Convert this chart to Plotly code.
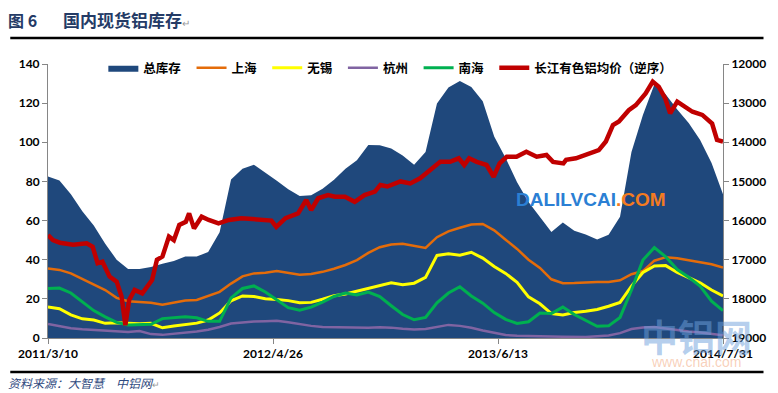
import plotly.graph_objects as go
import pandas as pd

# ---------------- data ----------------
dates = pd.date_range("2011-03-10", "2014-07-31", freq="21D")

total = [82.5, 80.5, 73.5, 64.8, 57.5, 48.2, 40, 35.2, 35.3, 36.3,
         38, 39.3, 41.7, 41.6, 44, 54, 81, 86.5, 88.5, 84.5,
         80.3, 76, 72.5, 73, 76.3, 80.8, 86.5, 90.8, 98.6, 98.5,
         96.8, 93.3, 88.5, 95, 119.8, 128, 131.3, 128.3, 121, 103,
         92, 79.6, 69.5, 61.8, 54.2, 59, 54.8, 52.9, 50.3, 52.8,
         62, 95, 114, 129.5, 124.4, 116.8, 109.8, 101.2, 89.4, 73.5]

shanghai = [35.5, 34.8, 33, 30.3, 27.6, 24.5, 20.5, 18.8, 18.4, 18,
            17, 18, 19.2, 19.4, 21.6, 23.6, 27.8, 31.5, 33, 33.3,
            34.2, 33.3, 32.3, 32.7, 33.8, 35.4, 37.3, 39.8, 43.5, 46.4,
            47.8, 48.2, 47, 46, 51.5, 54.5, 56.3, 58, 58.3, 55,
            50.2, 45.5, 40, 35.8, 30, 28, 28.1, 28.4, 28.6, 28.6,
            29.5, 32.6, 34.2, 39.5, 41.3, 40.8, 39.7, 38.8, 37.7, 36]

wuxi = [15.8, 15, 11.8, 9.8, 9.2, 7.5, 7.8, 7.4, 7.3, 7.5,
        5.2, 6.1, 6.9, 7.6, 9.2, 12.8, 19, 21.5, 21.2, 20.1,
        19.7, 19.1, 18, 18.2, 19.8, 21.6, 22.5, 24, 25.3, 26.8,
        28.2, 27.2, 28, 31, 42.2, 43, 42.3, 43.8, 40.8, 36.5,
        33, 28.5, 21, 17.5, 12.5, 11.8, 13, 13.7, 14.6, 16.2,
        18.2, 26.5, 33.5, 36.8, 37, 33.5, 30.8, 28.2, 24.5, 21.5]

hangzhou = [7.2, 6.2, 5, 4.5, 4.1, 3.7, 3.4, 3.1, 3.6, 2,
            1.6, 2.1, 2.8, 3.3, 4.2, 5.6, 7.4, 8, 8.4, 8.6,
            8.8, 8, 7, 6.2, 5.6, 5.5, 5.6, 5.4, 5.3, 5.5,
            5.3, 4.7, 4.3, 4.6, 5.6, 6.7, 6.2, 5.2, 3.8, 2.6,
            1.5, 1.1, 0.9, 0.9, 0.8, 0.7, 0.6, 0.5, 0.9, 1.3,
            2.5, 4.6, 5.4, 5.6, 4.8, 4, 3.3, 2.8, 2.2, 1.4]

nanhai = [25.3, 25.5, 23, 18.3, 14, 10.8, 8, 6.6, 6.9, 7,
          9.9, 10.4, 10.9, 10.3, 8.5, 8.5, 20.5, 25.3, 26.6, 23.5,
          19.5, 15.5, 14.2, 15.8, 18.3, 21.2, 23, 22, 23.5, 21.2,
          16.5, 12, 9.3, 10.5, 18, 23, 26.2, 21.5, 17.8, 13,
          9.5, 7.4, 8.3, 12.8, 12.5, 15.8, 12, 9, 6, 6.2,
          10.5, 24.5, 39.8, 46.2, 41.5, 35, 31, 26.5, 18.8, 14]

price_dates = ["2011-03-10", "2011-03-19", "2011-04-01", "2011-04-25", "2011-05-20",
               "2011-05-31", "2011-06-09", "2011-06-18", "2011-07-01", "2011-07-14",
               "2011-07-23", "2011-07-30", "2011-08-06", "2011-08-16", "2011-08-30",
               "2011-09-17", "2011-09-26", "2011-10-06", "2011-10-18", "2011-10-27",
               "2011-11-06", "2011-11-18", "2011-11-24", "2011-12-03", "2011-12-17",
               "2011-12-30", "2012-01-17", "2012-02-05", "2012-02-28", "2012-03-30",
               "2012-04-23", "2012-05-02", "2012-05-19", "2012-06-11", "2012-06-26",
               "2012-07-05", "2012-07-18", "2012-08-05", "2012-08-18", "2012-09-05",
               "2012-09-23", "2012-10-11", "2012-10-30", "2012-11-09", "2012-11-22",
               "2012-12-16", "2013-01-03", "2013-01-21", "2013-02-09", "2013-02-27",
               "2013-03-17", "2013-04-02", "2013-04-12", "2013-04-21", "2013-05-05",
               "2013-05-23", "2013-06-05", "2013-06-16", "2013-06-29", "2013-07-17",
               "2013-08-04", "2013-08-23", "2013-09-10", "2013-09-22", "2013-10-11",
               "2013-10-16", "2013-11-03", "2013-11-27", "2013-12-15", "2013-12-28",
               "2014-01-10", "2014-01-21", "2014-02-08", "2014-02-21", "2014-03-11",
               "2014-03-24", "2014-04-04", "2014-04-16", "2014-04-25", "2014-05-08",
               "2014-05-23", "2014-06-05", "2014-06-23", "2014-07-11", "2014-07-20",
               "2014-07-31"]
price = [16370, 16500, 16565, 16620, 16580,
         16670, 17090, 17050, 17430, 17560,
         17940, 18670, 18030, 17770, 17860,
         17520, 17000, 16920, 16410, 16500,
         16110, 16030, 15815, 16200, 15900,
         15985, 16070, 15985, 15940, 15985,
         16000, 16160, 15940, 15815, 15475,
         15730, 15430, 15350, 15390, 15390,
         15520, 15350, 15260, 15090, 15130,
         15000, 15050, 14920, 14710, 14500,
         14500, 14410, 14580, 14410, 14500,
         14580, 14880, 14540, 14370, 14370,
         14240, 14370, 14325, 14500, 14540,
         14450, 14410, 14280, 14200, 13980,
         13560, 13470, 13180, 13050, 12750,
         12450, 12580, 12880, 13260, 12960,
         13090, 13220, 13300, 13520, 13940,
         13980]

tick_dates = ["2011-03-10", "2012-04-26", "2013-06-13", "2014-07-31"]
tick_text = ["2011/3/10", "2012/4/26", "2013/6/13", "2014/7/31"]
left_ticks = [0, 20, 40, 60, 80, 100, 120, 140]
right_ticks = [12000, 13000, 14000, 15000, 16000, 17000, 18000, 19000]

# ---------------- figure ----------------
FONT = "Lato, 'Noto Sans CJK SC', sans-serif"
CJK = "'Noto Sans CJK SC', sans-serif"
AX = "#868686"
PAD = "\u00a0\u00a0"

fig = go.Figure()
fig.add_trace(go.Scatter(x=dates, y=total, name="总库存" + PAD, mode="lines",
                         fill="tozeroy", fillcolor="#1F487C",
                         line=dict(color="#1F487C", width=0)))
fig.add_trace(go.Scatter(x=dates, y=shanghai, name="上海" + PAD, mode="lines",
                         line=dict(color="#E46C0A", width=2.5)))
fig.add_trace(go.Scatter(x=dates, y=wuxi, name="无锡" + PAD, mode="lines",
                         line=dict(color="#FFFF00", width=3)))
fig.add_trace(go.Scatter(x=dates, y=hangzhou, name="杭州" + PAD, mode="lines",
                         line=dict(color="#8064A2", width=2.5)))
fig.add_trace(go.Scatter(x=dates, y=nanhai, name="南海" + PAD, mode="lines",
                         line=dict(color="#00B050", width=3)))
fig.add_trace(go.Scatter(x=price_dates, y=price, name="长江有色铝均价（逆序）",
                         mode="lines", yaxis="y2",
                         line=dict(color="#C00000", width=4.5)))

axis_common = dict(showgrid=False, zeroline=False, showline=True, linecolor=AX,
                   linewidth=1, ticks="outside", ticklen=5, tickcolor=AX,
                   tickfont=dict(family=FONT, size=12, color="#000", weight="bold"))

fig.update_layout(
    width=778, height=393,
    margin=dict(l=48, r=50, t=64, b=55),
    paper_bgcolor="white", plot_bgcolor="white",
    font=dict(family=FONT, size=12, color="#000"),
    showlegend=True,
    legend=dict(orientation="h", x=0.082, xanchor="left", y=0.985, yanchor="middle",
                bgcolor="rgba(0,0,0,0)", font=dict(family=CJK, size=12.5, weight="bold"),
                itemwidth=30, traceorder="normal"),
    xaxis=dict(type="date", range=["2011-03-10", "2014-07-31"],
               tickvals=tick_dates, ticktext=tick_text, **axis_common),
    yaxis=dict(range=[0, 140], tickvals=left_ticks, **axis_common),
    yaxis2=dict(overlaying="y", side="right", range=[19000, 12000],
                tickvals=right_ticks, tickformat="d", **axis_common),
)

# header / footer rules
fig.add_shape(type="line", xref="paper", yref="paper", x0=-0.0559, x1=1.06,
              y0=1.0949, y1=1.0949, line=dict(color="#000", width=2.5))
fig.add_shape(type="line", xref="paper", yref="paper", x0=-0.0559, x1=1.06,
              y0=-0.1241, y1=-0.1241, line=dict(color="#000", width=2.5))

# title
fig.add_annotation(xref="paper", yref="paper", x=-0.0615, y=1.1606, xanchor="left",
                   yanchor="middle", showarrow=False, text="图 6",
                   font=dict(family=CJK, size=16, color="#243B66", weight="bold"))
fig.add_annotation(xref="paper", yref="paper", x=0.0195, y=1.1606, xanchor="left",
                   yanchor="middle", showarrow=False,
                   text="国内现货铝库存<span style='font-size:10px;color:#999;font-weight:normal'>↵</span>",
                   font=dict(family=CJK, size=17, color="#243B66", weight="bold"))

# source
fig.add_annotation(xref="paper", yref="paper", x=-0.0615, y=-0.164, xanchor="left",
                   yanchor="middle", showarrow=False,
                   text="<i>资料来源：大智慧　中铝网</i><span style='font-size:9px;color:#999'>↵</span>",
                   font=dict(family=CJK, size=12, color="#2F4A80"))

# watermarks
fig.add_annotation(xref="paper", yref="paper", x=0.804, y=0.504, xanchor="center",
                   yanchor="middle", showarrow=False,
                   text="<span style='color:#2B7FD4'>DALILVCAI</span><span style='color:#F47B20'>.COM</span>",
                   font=dict(family="Liberation Sans, Arial, sans-serif", size=19, weight="bold"))
fig.add_annotation(xref="paper", yref="paper", x=0.96, y=0.007, xanchor="center",
                   yanchor="middle", showarrow=False, text="中铝网",
                   font=dict(family=CJK, size=37, color="rgba(110,160,220,0.5)", weight="bold"))
fig.add_annotation(xref="paper", yref="paper", x=0.96, y=-0.0876, xanchor="center",
                   yanchor="middle", showarrow=False, text="www.cnal.com",
                   font=dict(family="Liberation Sans, Arial, sans-serif", size=14,
                             color="rgba(240,150,100,0.45)"))

fig.write_html("out.html", config={"displayModeBar": False},
               post_script="document.body.style.margin='0';document.body.style.overflow='hidden';")
